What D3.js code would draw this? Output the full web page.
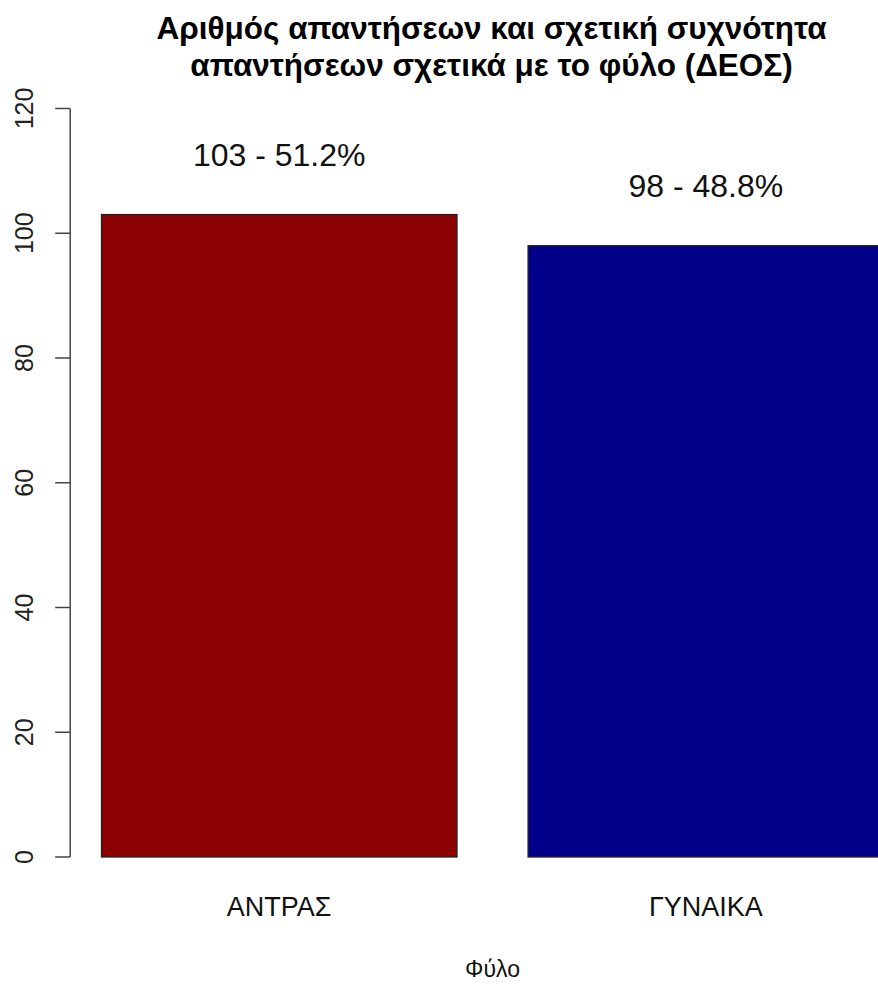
<!DOCTYPE html>
<html>
<head>
<meta charset="utf-8">
<script src="https://cdn.jsdelivr.net/npm/d3@7"></script>
<style>
  body { margin: 0; background: #fff; }
  svg { display: block; font-family: "Liberation Sans", Arial, sans-serif; }
</style>
</head>
<body>
<div id="main"></div>
<script>
// data
const categories = ['ΑΝΤΡΑΣ', 'ΓΥΝΑΙΚΑ'];
const counts = [103, 98];
const percents = ['51.2%', '48.8%'];
const barColors = ['#8b0000', '#000088'];
const yTicks = [0, 20, 40, 60, 80, 100, 120];
const titleLines = ['Αριθμός απαντήσεων και σχετική συχνότητα', 'απαντήσεων σχετικά με το φύλο (ΔΕΟΣ)'];
const xTitle = 'Φύλο';

const width = 878, height = 988;

const svg = d3.select('#main').append('svg')
  .attr('width', width)
  .attr('height', height);

// R barplot style: bar width 1, space 0.2 in user units
const barW = 1, space = 0.2;
const left = categories.map((d, i) => space + i * (barW + space));
const xMin = left[0], xMax = left[left.length - 1] + barW;
const pad = (xMax - xMin) * 0.04;

// plot region in pixels
const plotLeft = 70.2, unitPx = 355.5;
const x = d3.scaleLinear()
  .domain([xMin - pad, xMax + pad])
  .range([plotLeft, plotLeft + (xMax - xMin + 2 * pad) * unitPx]);

const y = d3.scaleLinear()
  .domain([0, 120])
  .range([857, 108.5]);

// bars
svg.selectAll('.bar')
  .data(counts)
  .enter().append('rect')
  .attr('class', 'bar')
  .attr('x', (d, i) => x(left[i]))
  .attr('width', (d, i) => x(left[i] + barW) - x(left[i]))
  .attr('y', d => y(d))
  .attr('height', d => y(0) - y(d))
  .attr('fill', (d, i) => barColors[i])
  .attr('stroke', '#222')
  .attr('stroke-width', 1.3);

// value labels above bars
svg.selectAll('.vlabel')
  .data(counts)
  .enter().append('text')
  .attr('class', 'vlabel')
  .attr('x', (d, i) => x(left[i] + barW / 2))
  .attr('y', d => y(d + 9.6))
  .attr('dy', '0.36em')
  .attr('text-anchor', 'middle')
  .attr('font-size', 32)
  .attr('fill', '#111')
  .text((d, i) => d + ' - ' + percents[i]);

// y axis, R style with rotated labels
const axisG = svg.append('g')
  .attr('transform', 'translate(' + plotLeft + ',0)');
axisG.append('line')
  .attr('x1', 0).attr('x2', 0)
  .attr('y1', y(0)).attr('y2', y(120))
  .attr('stroke', '#444').attr('stroke-width', 1.5);
axisG.selectAll('.tick')
  .data(yTicks)
  .enter().append('line')
  .attr('x1', -15).attr('x2', 0)
  .attr('y1', d => y(d)).attr('y2', d => y(d))
  .attr('stroke', '#444').attr('stroke-width', 1.5);
axisG.selectAll('.tlabel')
  .data(yTicks)
  .enter().append('text')
  .attr('transform', d => 'translate(-37,' + y(d) + ') rotate(-90)')
  .attr('text-anchor', 'middle')
  .attr('font-size', 25)
  .attr('fill', '#222')
  .text(d => d);

// category labels
svg.selectAll('.clabel')
  .data(categories)
  .enter().append('text')
  .attr('class', 'clabel')
  .attr('x', (d, i) => x(left[i] + barW / 2))
  .attr('y', 916)
  .attr('text-anchor', 'middle')
  .attr('font-size', 27)
  .attr('fill', '#111')
  .text(d => d);

const midX = (x.range()[0] + x.range()[1]) / 2;

// x axis title
svg.append('text')
  .attr('x', midX)
  .attr('y', 977)
  .attr('text-anchor', 'middle')
  .attr('font-size', 23)
  .attr('fill', '#111')
  .text(xTitle);

// main title
svg.selectAll('.title')
  .data(titleLines)
  .enter().append('text')
  .attr('class', 'title')
  .attr('x', midX - 1)
  .attr('y', (d, i) => 39 + i * 37)
  .attr('text-anchor', 'middle')
  .attr('font-size', 31.5)
  .attr('font-weight', 'bold')
  .attr('fill', '#000')
  .text(d => d);
</script>
</body>
</html>
